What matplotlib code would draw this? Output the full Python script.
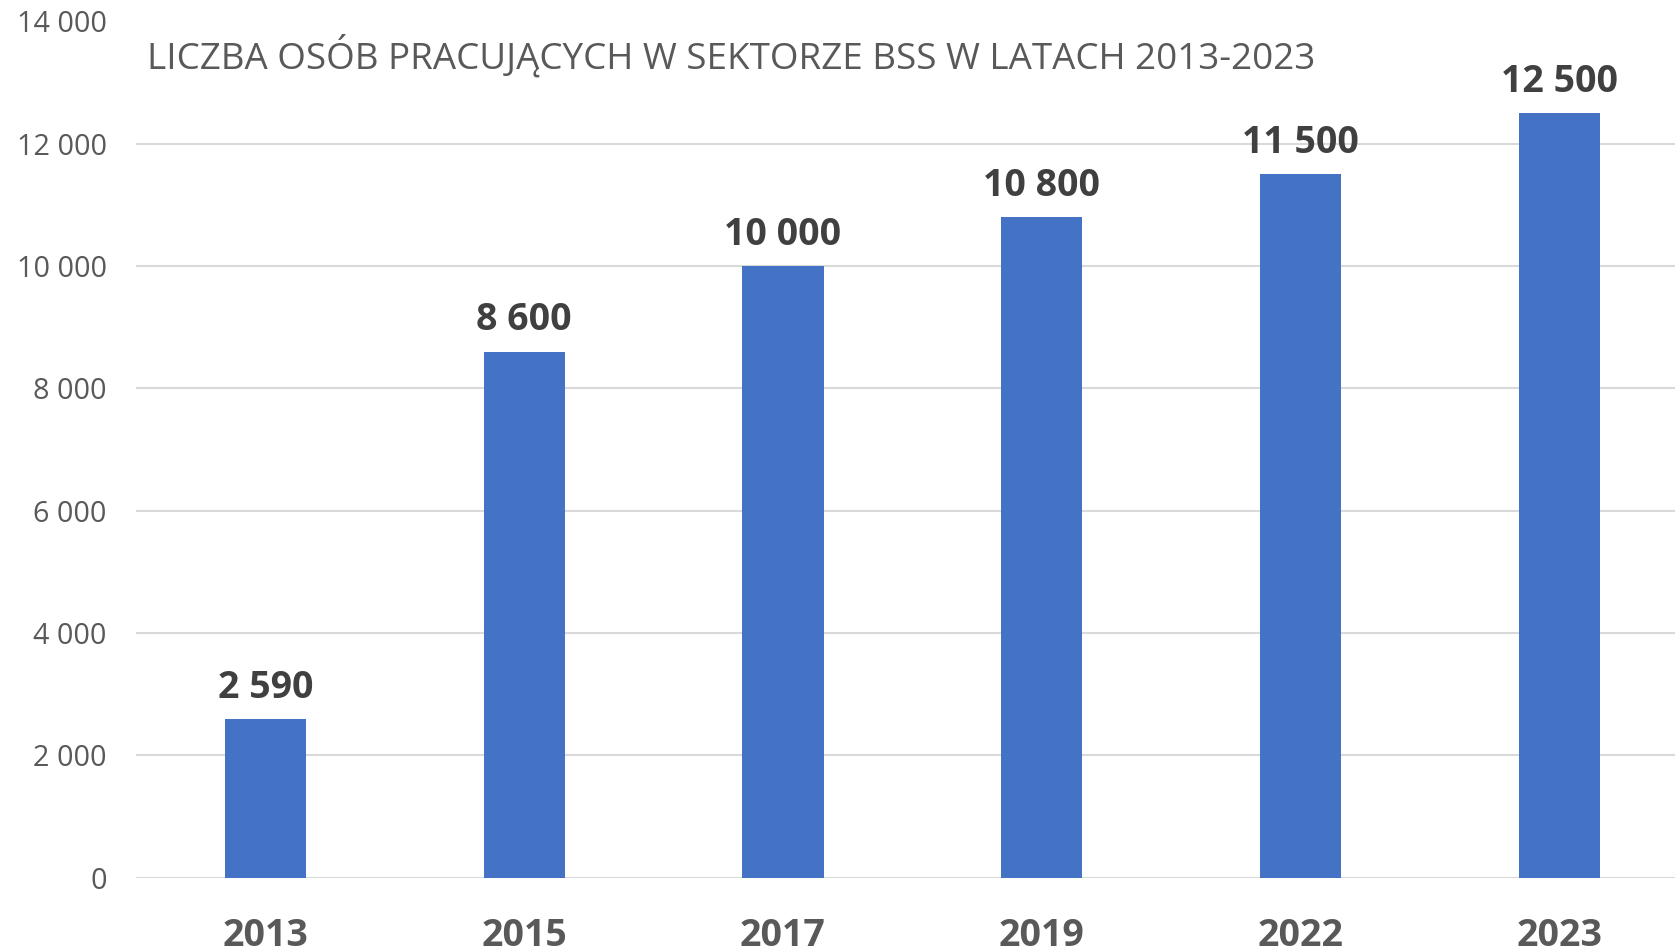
import matplotlib
matplotlib.use("Agg")
import matplotlib.pyplot as plt

years = ["2013", "2015", "2017", "2019", "2022", "2023"]
values = [2590, 8600, 10000, 10800, 11500, 12500]
value_labels = ["2 590", "8 600", "10 000", "10 800", "11 500", "12 500"]
yticks = [0, 2000, 4000, 6000, 8000, 10000, 12000, 14000]
ytick_labels = ["0", "2 000", "4 000", "6 000", "8 000", "10 000", "12 000", "14 000"]
title = "LICZBA OSÓB PRACUJĄCYCH W SEKTORZE BSS W LATACH 2013-2023"

plt.rcParams['font.family'] = ['Open Sans', 'DejaVu Sans']

W, H = 1675, 950
fig = plt.figure(figsize=(W / 100, H / 100), dpi=100)
left, right = 136, 1675
bottom, top = 950 - 877.7, 950 - 21.5
ax = fig.add_axes([left / W, bottom / H, (right - left) / W, (top - bottom) / H])

x = list(range(len(years)))
ax.bar(x, values, width=0.313, color="#4472C4", zorder=3)
ax.set_xlim(-0.5, -0.5 + (right - left) / 258.8)
ax.set_ylim(0, 14000)
ax.set_yticks(yticks)
ax.set_yticklabels(ytick_labels, fontsize=20.7, color="#595959")
ax.set_xticks(x)
ax.set_xticklabels(years, fontsize=27, fontweight="bold", color="#595959")
ax.tick_params(axis="both", length=0)
ax.tick_params(axis="y", pad=21)
ax.tick_params(axis="x", pad=28)
ax.grid(axis="y", color="#D9D9D9", linewidth=1.5, zorder=0)
for s in ax.spines.values():
    s.set_visible(False)

for xi, v, lab in zip(x, values, value_labels):
    ax.annotate(lab, (xi, v), xytext=(0, 9), textcoords="offset points",
                ha="center", va="bottom", fontsize=27, fontweight="bold", color="#404040")

fig.text(147 / W, 1 - 56 / H, title, fontsize=26.5, color="#595959", ha="left", va="center")

fig.savefig("out.png", dpi=100)
